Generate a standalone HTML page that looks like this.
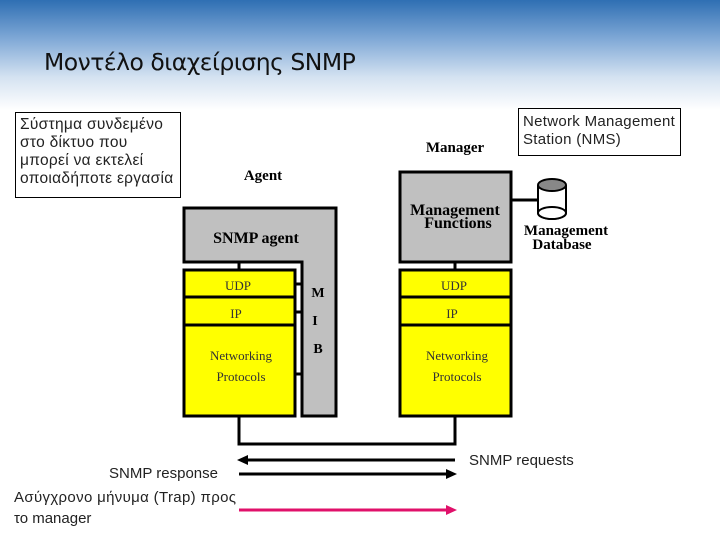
<!DOCTYPE html>
<html><head><meta charset="utf-8"><style>
body{margin:0;width:720px;height:540px;overflow:hidden;background:#fff;position:relative;font-family:"Liberation Sans",sans-serif}
.hdr{position:absolute;left:0;top:0;width:720px;height:110px;background:linear-gradient(#2f6fb3 0%,#7fa8d6 35%,#d4e2f1 70%,#fff 100%)}
.t{position:absolute;white-space:nowrap}
.box{position:absolute;border:1px solid #000;background:#fff;font-size:15.5px;line-height:18px;color:#222;padding:3px 4px;box-sizing:border-box;white-space:nowrap;letter-spacing:0.3px}
</style></head><body>
<div class="hdr"></div>
<div class="t" style="left:44px;top:48px;font-size:23.5px;color:#111;font-family:'DejaVu Sans',sans-serif;letter-spacing:-0.5px">Μοντέλο διαχείρισης SNMP</div>
<div class="box" style="left:15px;top:112px;width:166px;height:86px">Σύστημα συνδεμένο<br>στο δίκτυο που<br>μπορεί να εκτελεί<br>οποιαδήποτε εργασία</div>
<div class="box" style="left:518px;top:108px;width:163px;height:48px;font-size:15px;padding-top:4px">Network Management<br>Station (NMS)</div>
<svg width="720" height="540" style="position:absolute;left:0;top:0" font-family="Liberation Serif,serif">
<g stroke="#000" stroke-width="3">
<path d="M184 208H336V416H302V262H184Z" fill="#c0c0c0"/>
<line x1="239" y1="262" x2="239" y2="270"/>
<rect x="184" y="270" width="111" height="146" fill="#ffff00"/>
<line x1="184" y1="297" x2="295" y2="297"/>
<line x1="184" y1="325" x2="295" y2="325"/>
<line x1="295" y1="284" x2="302" y2="284"/>
<line x1="295" y1="312" x2="302" y2="312"/>
<line x1="295" y1="374" x2="302" y2="374"/>
<rect x="400" y="172" width="111" height="90" fill="#c0c0c0"/>
<line x1="455" y1="262" x2="455" y2="270"/>
<rect x="400" y="270" width="111" height="146" fill="#ffff00"/>
<line x1="400" y1="297" x2="511" y2="297"/>
<line x1="400" y1="325" x2="511" y2="325"/>
<line x1="511" y1="200" x2="538" y2="200"/>
<path d="M239 416V444H455V416" fill="none"/>
<line x1="246" y1="460" x2="455" y2="460"/>
<line x1="239" y1="474" x2="448" y2="474"/>
<line x1="239" y1="510" x2="448" y2="510" stroke="#e0106a"/>
</g>
<polygon points="237,460 248,455 248,465"/>
<polygon points="457,474 446,469 446,479"/>
<polygon points="457,510 446,505 446,515" fill="#e0106a"/>
<g stroke="#000" stroke-width="2">
<path d="M538 185V213A14 6 0 0 0 566 213V185" fill="#fff"/>
<ellipse cx="552" cy="213" rx="14" ry="6" fill="#fff"/>
<ellipse cx="552" cy="185" rx="14" ry="6" fill="#888"/>
</g>
<g font-weight="bold" font-size="15" text-anchor="middle">
<text x="263" y="180">Agent</text>
<text x="455" y="152">Manager</text>
<text x="256" y="243" font-size="16">SNMP agent</text>
<text x="455" y="215" font-size="16">Management</text>
<text x="458" y="228" font-size="16">Functions</text>
<text x="566" y="235">Management</text>
<text x="562" y="249">Database</text>
<text x="318" y="297" font-size="14">M</text>
<text x="315" y="325" font-size="14">I</text>
<text x="318" y="353" font-size="14">B</text>
</g>
<g font-size="13" text-anchor="middle" fill="#333">
<text x="238" y="290">UDP</text><text x="236" y="318">IP</text>
<text x="241" y="360">Networking</text><text x="241" y="381">Protocols</text>
<text x="454" y="290">UDP</text><text x="452" y="318">IP</text>
<text x="457" y="360">Networking</text><text x="457" y="381">Protocols</text>
</g>
<g font-family="Liberation Sans,sans-serif" font-size="15" fill="#222">
<text x="469" y="465">SNMP requests</text>
<text x="218" y="478" text-anchor="end">SNMP response</text>
<text x="14" y="502" textLength="222">Ασύγχρονο μήνυμα (Trap) προς</text>
<text x="14" y="523">το manager</text>
</g>
</svg>
</body></html>
